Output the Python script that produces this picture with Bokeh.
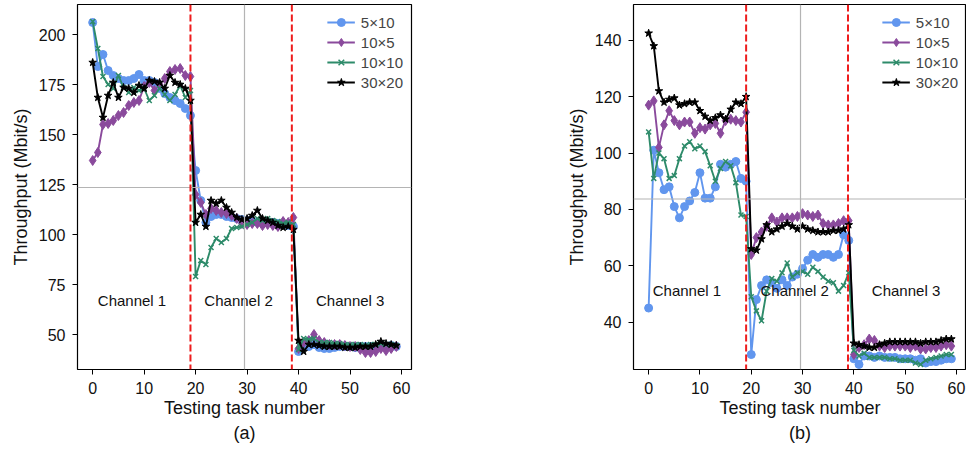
from bokeh.plotting import figure
from bokeh.layouts import row
from bokeh.models import Range1d, Span, SingleIntervalTicker, Title, Legend
from bokeh.core.properties import value
from bokeh.embed import file_html
from bokeh.resources import INLINE

# ---------------- data ----------------
task = list(range(60))
series_names = ["5×10", "10×5", "10×10", "30×20"]

a_5x10 = [206, 184, 190, 182, 179.5, 178, 177, 177, 178, 180, 177, 177, 176, 173, 170.5, 168.5, 167, 165.5, 163, 159.5,
          132, 117, 106, 109, 110, 110, 109, 108.5, 108, 107.5, 107, 106.5, 106, 106, 106, 106, 105.5, 105, 104.5, 104,
          41.5, 45, 44, 45, 43.5, 43, 43, 43.5, 44, 44, 44, 43.5, 44, 44, 44, 43.5, 44, 44, 44.5, 44]
a_10x5 = [137, 141, 155, 155.5, 157, 159.5, 161, 164.5, 166, 167, 174, 176, 172, 175, 178, 181.5, 182.5, 183, 179.5, 179,
          120, 116, 110, 113, 112, 111, 110.5, 109.5, 108, 105.5, 105, 105.5, 105.5, 104.5, 105, 104.5, 104, 106.5, 106, 108.5,
          43, 46, 47, 50, 47, 46, 45, 45, 45, 44.5, 44, 44, 42.5, 41, 41, 41.5, 43, 42, 43, 44]
a_10x10 = [206.5, 193, 179, 175, 173, 179.5, 173.5, 171, 173.5, 172, 173, 167, 169.5, 173, 170, 167, 170, 174.5, 168.5, 172,
           79, 87, 85, 93.5, 98, 96, 98, 103, 103.5, 104, 105, 106, 108, 107, 108, 107, 106.5, 105.5, 106, 105,
           42.5, 48, 47.5, 48, 46, 46, 46, 45.5, 45.5, 45, 45, 45, 45, 44.5, 45, 45, 45.5, 45, 45, 44.5]
a_30x20 = [186, 168.5, 158.5, 169.5, 176, 168.5, 173.5, 173, 171, 174.5, 173, 177, 176.5, 176, 173, 179.5, 176, 175, 173, 167,
           106, 110, 104, 117, 115.5, 117, 113.5, 111, 108.5, 107.5, 108, 109.5, 112, 108, 107, 106, 104.5, 103.5, 104, 102.5,
           47, 41.5, 45, 45, 44.5, 44, 44, 44, 44, 43.5, 43.5, 43.5, 44, 44, 44, 45, 46.5, 45.5, 45, 44.5]

b_5x10 = [45, 101, 93, 87, 88, 81, 77, 81, 83, 86, 93, 84, 84, 88, 96, 95, 96, 97, 91, 90,
          28.5, 48, 53, 55, 54, 52, 55, 53, 56, 57, 59, 62, 64, 63, 64, 64, 63, 64, 71, 69,
          27, 25, 28, 28, 27.5, 28, 27.5, 27.5, 27.5, 27, 27, 27, 26.5, 27, 25.5, 26, 26, 26.5, 27, 27]
b_10x5 = [117, 118.5, 102, 110, 115, 111.5, 110, 111, 111, 107, 109, 108.5, 110, 110.5, 107, 111.5, 112, 111.5, 111, 114.5,
          64, 70, 72, 74, 77, 75.5, 77, 77, 77, 77.5, 78.5, 78, 77.5, 78, 75, 74.5, 74.5, 75, 76, 76,
          28.5, 31, 32, 34, 33.5, 31.5, 31, 31.5, 31.5, 31.5, 31.5, 31, 31.5, 30.5, 30.5, 31, 31, 31.5, 32, 31.5]
b_10x10 = [107.5, 91, 100, 98, 91, 92, 98, 102.5, 104, 101.5, 102.5, 100.5, 95.5, 90, 94.5, 97, 95.5, 89.5, 78, 77.5,
           49, 44, 40.5, 51, 55.5, 54.5, 57.5, 61, 56, 57.5, 58, 57, 59.5, 58, 56, 54.5, 54, 51, 53, 57.5,
           30, 28, 29, 27.5, 27.5, 27.5, 27.5, 27, 27, 26.5, 26.5, 26.5, 25.5, 25, 26.5, 27, 27.5, 28, 28.5, 28.5]
b_30x20 = [142.5, 138, 122, 118, 119, 119.5, 117, 117.5, 118, 118, 115, 113, 111.5, 112.5, 113.5, 112, 115.5, 118, 117.5, 120,
           66, 65.5, 69.5, 74.5, 72, 73, 74, 75, 74, 73, 74, 73, 72.5, 72, 72, 72, 72.5, 72.5, 73, 74.5,
           32.5, 32, 31.5, 31, 31, 32, 32.5, 33, 33, 33, 33, 33, 33, 32.5, 33, 33, 33, 33.5, 34, 34]

channel_labels = ["Channel 1", "Channel 2", "Channel 3"]
x_ticks_interval = 10

# ---------------- styling ----------------
FONT = "Liberation Sans"
colors = ["#6196ee", "#8a4a9c", "#2e8b6a", "#000000"]
markers = ["circle", "diamond", "x", "star"]
msizes = [8, 10, 7, 8]


def make_panel(series, y_range, y_interval, boundaries, center, text_pos, caption,
               min_left, min_right):
    p = figure(width=483, height=449, output_backend="svg", toolbar_location=None,
               x_range=Range1d(-2.95, 61.95), y_range=Range1d(*y_range),
               min_border_left=min_left, min_border_right=min_right,
               min_border_top=4, min_border_bottom=80)
    p.xgrid.visible = False
    p.ygrid.visible = False
    p.outline_line_color = "black"
    p.outline_line_width = 1.2
    p.background_fill_color = "white"

    # center crosshair lines
    p.add_layout(Span(location=center[0], dimension="height", line_color="#b4b4b4", line_width=1.2))
    p.add_layout(Span(location=center[1], dimension="width", line_color="#b4b4b4", line_width=1.2))
    # channel boundaries
    for b in boundaries:
        p.add_layout(Span(location=b, dimension="height", line_color="#ee1c1c",
                          line_width=2, line_dash="7 3"))

    items = []
    for name, ys, c, m, s in zip(series_names, series, colors, markers, msizes):
        r1 = p.line(task, ys, line_color=c, line_width=1.9)
        if m == "x":
            r2 = p.scatter(task, ys, marker=m, size=s, line_color=c, line_width=1.5)
        else:
            r2 = p.scatter(task, ys, marker=m, size=s, fill_color=c, line_color=c)
        items.append((name, [r1, r2]))

    legend = Legend(items=items, location="top_right", label_text_font=FONT,
                    label_text_font_size="15px", glyph_width=28, glyph_height=20,
                    label_height=20, spacing=0, padding=4, margin=4, label_standoff=6,
                    border_line_alpha=0, background_fill_alpha=0)
    p.add_layout(legend)

    p.text(x=[tp[0] for tp in text_pos], y=[tp[1] for tp in text_pos], text=channel_labels,
           text_font=value(FONT), text_font_size="15px", text_baseline="middle",
           text_align="left", text_color="#111111")

    p.xaxis.ticker = SingleIntervalTicker(interval=x_ticks_interval)
    p.yaxis.ticker = SingleIntervalTicker(interval=y_interval)
    for ax in (p.xaxis, p.yaxis):
        ax.major_label_text_font = FONT
        ax.major_label_text_font_size = "16px"
        ax.axis_label_text_font = FONT
        ax.axis_label_text_font_size = "18px"
        ax.axis_label_text_font_style = "normal"
        ax.major_tick_out = 5
        ax.major_tick_in = 0
        ax.minor_tick_out = 0
        ax.minor_tick_in = 0
        ax.axis_line_color = None
        ax.major_tick_line_color = "black"
        ax.major_label_text_color = "#111111"
        ax.axis_label_text_color = "#111111"
    p.xaxis.axis_label = "Testing task number"
    p.yaxis.axis_label = "Throughput (Mbit/s)"
    p.xaxis.major_label_standoff = 7
    p.yaxis.major_label_standoff = 7
    p.xaxis.axis_label_standoff = 1
    p.yaxis.axis_label_standoff = 5
    p.add_layout(Title(text=caption, align="center", text_font=FONT, text_font_size="18px",
                       text_font_style="normal", text_color="#111111", standoff=0), "below")
    return p


p1 = make_panel([a_5x10, a_10x5, a_10x10, a_30x20], (32.5, 215.0), 25, [19, 38.7],
                (29.5, 123.5), [(1, 67), (21.7, 67), (43.4, 67)], "(a)", 77, 72)
p2 = make_panel([b_5x10, b_10x5, b_10x10, b_30x20], (23.2, 152.7), 20, [19, 38.85],
                (29.6, 83.7), [(0.8, 51.3), (21.8, 51.3), (43.5, 51.3)], "(b)", 150, 0)

layout = row(p1, p2, spacing=0)
open("out.html", "w").write(file_html(layout, INLINE))
